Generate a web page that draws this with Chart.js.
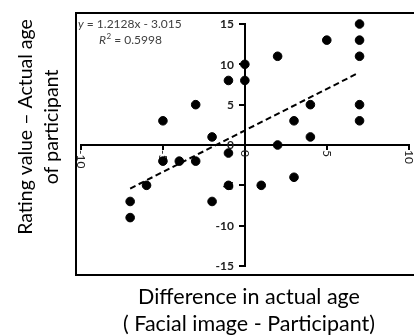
<!DOCTYPE html>
<html>
<head>
<meta charset="utf-8">
<script src="https://cdn.jsdelivr.net/npm/chart.js@4.4.0/dist/chart.umd.min.js"></script>
<style>
    html, body { margin: 0; padding: 0; background: #fff; }
    #wrap { width: 414px; height: 336px; position: relative; }
</style>
</head>
<body>
<div id="wrap"><canvas id="scatterChart" width="414" height="336"></canvas></div>
<script>
// Age difference (facial image - participant) vs rating error
const ageDiff = [7, 7, 7, 7, 7, 5, 2, 0, 0, -1, -3, -5, -2, 3, 4, 4, 2, -1, -5, -4, -3, -6, -7, -7, -2, -1, 1, 3];
const ratingDiff = [15, 13, 11, 5, 3, 13, 11, 10, 8, 8, 5, 3, 1, 3, 5, 1, 0, -1, -2, -2, -2, -5, -7, -9, -7, -5, -5, -4];

// dashed trend line, as drawn
const trendX = [-7, 6.8];
const trendY = [-5.4, 8.8];

const xTicks = [-10, -5, 0, 5, 10];
const yTicks = [-15, -10, -5, 0, 5, 10, 15];

const xTitle = ['Difference in actual age', '( Facial image - Participant)'];
const yTitle = ['Rating value \u2013 Actual age', 'of participant'];
const equation = 'y = 1.2128x - 3.015';
const rSquared = '0.5998';

const FONT = 'Lato, "Open Sans", sans-serif';

// tick labels for the centred axes (x labels rotated clockwise)
const tickLabelPlugin = {
    id: 'tickLabels',
    beforeDatasetsDraw(chart) {
        const ctx = chart.ctx;
        const xs = chart.scales.x;
        const ys = chart.scales.y;
        const axisY = ys.getPixelForValue(0);
        const axisX = xs.getPixelForValue(0);
        ctx.save();
        ctx.fillStyle = '#222';
        ctx.font = '12px ' + FONT;
        ctx.textAlign = 'left';
        ctx.textBaseline = 'middle';
        xTicks.forEach(v => {
            ctx.save();
            ctx.translate(xs.getPixelForValue(v), axisY + 5);
            ctx.rotate(Math.PI / 2);
            ctx.fillText(String(v), 0, 0);
            ctx.restore();
        });

        ctx.font = 'bold 12px ' + FONT;
        ctx.textAlign = 'right';
        yTicks.forEach(v => {
            ctx.fillText(String(v), axisX - 11, ys.getPixelForValue(v) + 0.5);
        });
        ctx.restore();
    }
};

// frame, titles and the trend equation
const decorPlugin = {
    id: 'decor',
    afterDraw(chart) {
        const ctx = chart.ctx;
        ctx.save();

        ctx.strokeStyle = '#000';
        ctx.lineWidth = 2;
        ctx.strokeRect(76, 13, 345, 262);

        ctx.fillStyle = '#000';
        ctx.font = '21.5px ' + FONT;
        ctx.textAlign = 'center';
        ctx.textBaseline = 'middle';
        ctx.fillText(xTitle[0], 249, 297);
        ctx.fillText(xTitle[1], 249, 324);

        ctx.save();
        ctx.font = '19.5px ' + FONT;
        ctx.translate(26, 127);
        ctx.rotate(-Math.PI / 2);
        ctx.fillText(yTitle[0], 0, 0);
        ctx.fillText(yTitle[1], 0, 26);
        ctx.restore();

        // equation text, italic variable names
        ctx.fillStyle = '#404040';
        ctx.textAlign = 'left';
        ctx.font = 'italic 12px ' + FONT;
        ctx.fillText('y', 78, 24);
        let w = ctx.measureText('y').width;
        ctx.font = '12px ' + FONT;
        ctx.fillText(equation.slice(1), 78 + w, 24);

        ctx.font = 'italic 12px ' + FONT;
        ctx.fillText('R', 99, 40);
        w = ctx.measureText('R').width;
        ctx.font = '8px ' + FONT;
        ctx.fillText('2', 99 + w + 0.5, 36);
        const w2 = ctx.measureText('2').width;
        ctx.font = '12px ' + FONT;
        ctx.fillText(' = ' + rSquared, 99 + w + w2 + 0.5, 40);

        ctx.restore();
    }
};

const ctx = document.getElementById('scatterChart').getContext('2d');

new Chart(ctx, {
    type: 'scatter',
    data: {
        datasets: [
            {
                label: 'Participants',
                data: ageDiff.map((x, i) => ({ x: x, y: ratingDiff[i] })),
                backgroundColor: '#000',
                borderColor: '#000',
                pointRadius: 4.3,
                pointHoverRadius: 4.3,
                clip: false
            },
            {
                label: 'Trend',
                type: 'line',
                data: trendX.map((x, i) => ({ x: x, y: trendY[i] })),
                borderColor: '#000',
                borderWidth: 2,
                borderDash: [6, 3.5],
                pointRadius: 0,
                fill: false
            }
        ]
    },
    options: {
        responsive: false,
        animation: false,
        layout: {
            padding: { left: 81, right: 2, top: 24, bottom: 70 }
        },
        plugins: {
            legend: { display: false },
            tooltip: { enabled: false }
        },
        scales: {
            x: {
                type: 'linear',
                min: -10,
                max: 10,
                position: { y: 0 },
                ticks: { display: false, stepSize: 5 },
                grid: { drawOnChartArea: false, drawTicks: true, tickLength: 4, color: '#000', lineWidth: 2 },
                border: { color: '#000', width: 2 }
            },
            y: {
                type: 'linear',
                min: -15,
                max: 15,
                position: { x: 0 },
                ticks: { display: false, stepSize: 5 },
                grid: { drawOnChartArea: false, drawTicks: true, tickLength: 5, color: '#000', lineWidth: 2 },
                border: { color: '#000', width: 2 }
            }
        }
    },
    plugins: [tickLabelPlugin, decorPlugin]
});
</script>
</body>
</html>
